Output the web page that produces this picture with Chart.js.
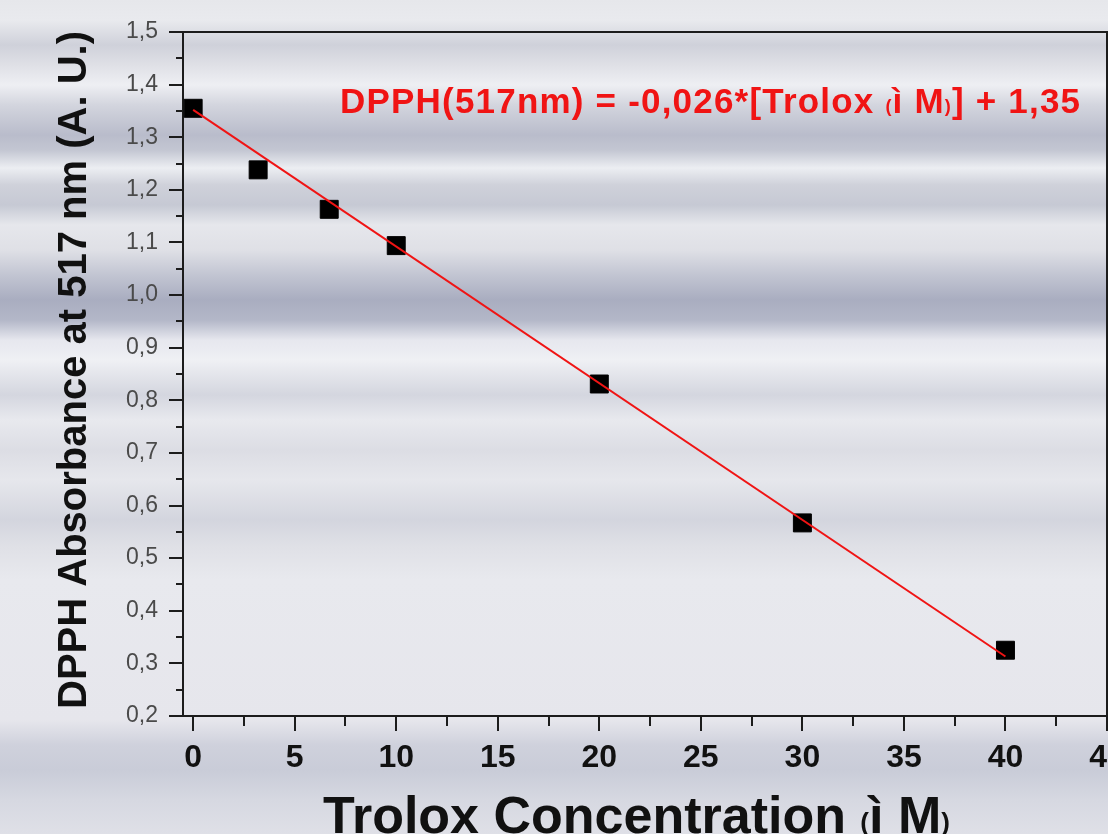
<!DOCTYPE html>
<html>
<head>
<meta charset="utf-8">
<script src="https://cdn.jsdelivr.net/npm/chart.js@4"></script>
<style>
  html, body { margin: 0; padding: 0; }
  body {
    width: 1108px; height: 834px; overflow: hidden;
    background: linear-gradient(180deg,
      #e6e7eb 0px, #e9eaee 20px, #cfd1da 45px, #dfe0e6 65px, #eeeff3 85px,
      #d3d5de 105px, #b9bccb 135px, #c3c6d2 150px, #eceef2 168px, #cfd1da 185px,
      #c6c9d4 205px, #e6e7ec 225px, #dfe0e6 250px, #c2c5d2 275px, #a9adc0 300px,
      #b3b7c8 320px, #e6e7ee 340px, #eff0f4 360px, #d4d6df 395px, #e8e9ee 420px,
      #dcdde4 450px, #e6e7ec 480px, #d3d5de 520px, #dfe0e6 545px, #e8e9ee 580px,
      #e6e6ec 720px, #cfd1dc 745px, #c9ccd8 770px, #d6d8e1 800px, #dfe0e7 834px);
  }
  canvas { display: block; }
</style>
</head>
<body>
<canvas id="chart" width="1160" height="834"></canvas>
<script>
// ------------------------------------------------------------
//  Daten
// ------------------------------------------------------------
const TROLOX_CONC = [0, 3.2, 6.7, 10, 20, 30, 40];
const ABSORBANCE  = [1.355, 1.238, 1.163, 1.094, 0.831, 0.567, 0.325];

// lineare Regression: DPPH = -0,026 * [Trolox] + 1,35
const FIT_X = [0, 40];
const FIT_Y = [1.352, 0.313];

const X_TICKS = [0, 5, 10, 15, 20, 25, 30, 35, 40, 45];
const Y_TICKS = [0.2, 0.3, 0.4, 0.5, 0.6, 0.7, 0.8, 0.9, 1.0, 1.1, 1.2, 1.3, 1.4, 1.5];

const FONT = "'Liberation Sans', Arial, sans-serif";
const AXIS_COLOR = '#1c1c1c';
const RED = '#f01414';

// ------------------------------------------------------------
//  Text aus mehreren Stücken (kleine Klammern um "ì M")
// ------------------------------------------------------------
function drawRuns(ctx, runs, x, y) {
  runs.forEach(r => {
    ctx.font = `bold ${r.size}px ${FONT}`;
    ctx.fillText(r.text, x, y + (r.dy || 0));
    x += ctx.measureText(r.text).width;
  });
}

// ------------------------------------------------------------
//  Rahmen, Nebenstriche, Achsentitel, Gleichung
// ------------------------------------------------------------
const decorations = {
  id: 'decorations',
  afterDraw(chart) {
    const { ctx, chartArea: a, scales: { x, y } } = chart;
    ctx.save();
    ctx.strokeStyle = AXIS_COLOR;
    ctx.lineWidth = 2;

    // oberer und rechter Rahmen
    ctx.beginPath();
    ctx.moveTo(a.left, a.top);
    ctx.lineTo(a.right, a.top);
    ctx.lineTo(a.right, a.bottom);
    ctx.stroke();

    // Nebenstriche zwischen den Hauptstrichen
    ctx.beginPath();
    for (let i = 0; i < x.ticks.length - 1; i++) {
      const px = Math.round(x.getPixelForValue((x.ticks[i].value + x.ticks[i + 1].value) / 2));
      ctx.moveTo(px, a.bottom);
      ctx.lineTo(px, a.bottom + 10);
    }
    for (let i = 0; i < y.ticks.length - 1; i++) {
      const py = Math.round(y.getPixelForValue((y.ticks[i].value + y.ticks[i + 1].value) / 2));
      ctx.moveTo(a.left, py);
      ctx.lineTo(a.left - 7, py);
    }
    ctx.stroke();

    // y-Titel
    ctx.fillStyle = '#111';
    ctx.save();
    ctx.translate(86, (a.top + a.bottom) / 2 - 4);
    ctx.rotate(-Math.PI / 2);
    ctx.font = `bold 40px ${FONT}`;
    ctx.textAlign = 'center';
    ctx.textBaseline = 'alphabetic';
    ctx.fillText('DPPH Absorbance at 517 nm (A. U.)', 0, 0);
    ctx.restore();

    // x-Titel
    ctx.textAlign = 'left';
    ctx.textBaseline = 'alphabetic';
    drawRuns(ctx, [
      { text: 'Trolox Concentration ', size: 52 },
      { text: '(', size: 26, dy: -2 },
      { text: 'ì M', size: 52 },
      { text: ')', size: 26, dy: -2 }
    ], 323, 833);

    // Regressionsgleichung (etwas gesperrt wie im Original)
    ctx.fillStyle = RED;
    ctx.letterSpacing = '1.2px';
    drawRuns(ctx, [
      { text: 'DPPH(517nm) = -0,026*[Trolox ', size: 35 },
      { text: '(', size: 18, dy: -1 },
      { text: 'ì M', size: 35 },
      { text: ')', size: 18, dy: -1 },
      { text: '] + 1,35', size: 35 }
    ], 340, 113);

    ctx.restore();
  }
};

// ------------------------------------------------------------
//  Chart
// ------------------------------------------------------------
new Chart(document.getElementById('chart'), {
  type: 'scatter',
  data: {
    datasets: [
      {
        label: 'fit',
        data: FIT_X.map((v, i) => ({ x: v, y: FIT_Y[i] })),
        showLine: true,
        borderColor: RED,
        borderWidth: 2,
        pointRadius: 0,
        order: 0
      },
      {
        label: 'DPPH',
        data: TROLOX_CONC.map((v, i) => ({ x: v, y: ABSORBANCE[i] })),
        pointStyle: 'rect',
        pointRadius: 12.7,
        pointBackgroundColor: '#000',
        pointBorderColor: '#000',
        pointBorderWidth: 1,
        order: 1
      }
    ]
  },
  options: {
    responsive: false,
    animation: false,
    devicePixelRatio: 1,
    layout: { padding: { left: 0, top: 32, right: 53, bottom: 0 } },
    plugins: {
      legend: { display: false },
      tooltip: { enabled: false }
    },
    scales: {
      x: {
        type: 'linear',
        min: -0.5,
        max: 45,
        afterBuildTicks: s => { s.ticks = X_TICKS.map(v => ({ value: v })); },
        afterFit: s => { s.height = 118; },
        grid: { drawOnChartArea: false, tickLength: 15, color: AXIS_COLOR, lineWidth: 2 },
        border: { color: AXIS_COLOR, width: 2 },
        ticks: {
          autoSkip: false,
          maxRotation: 0,
          padding: 8,
          color: '#111',
          font: { family: FONT, size: 32, weight: 'bold' },
          callback: v => String(v)
        }
      },
      y: {
        min: 0.2,
        max: 1.5,
        afterBuildTicks: s => { s.ticks = Y_TICKS.map(v => ({ value: v })); },
        afterFit: s => { s.width = 183; },
        grid: { drawOnChartArea: false, tickLength: 14, color: AXIS_COLOR, lineWidth: 2 },
        border: { color: AXIS_COLOR, width: 2 },
        ticks: {
          autoSkip: false,
          padding: 11,
          color: '#4a4a4a',
          font: { family: FONT, size: 23 },
          callback: v => v.toFixed(1).replace('.', ',')
        }
      }
    }
  },
  plugins: [decorations]
});
</script>
</body>
</html>
